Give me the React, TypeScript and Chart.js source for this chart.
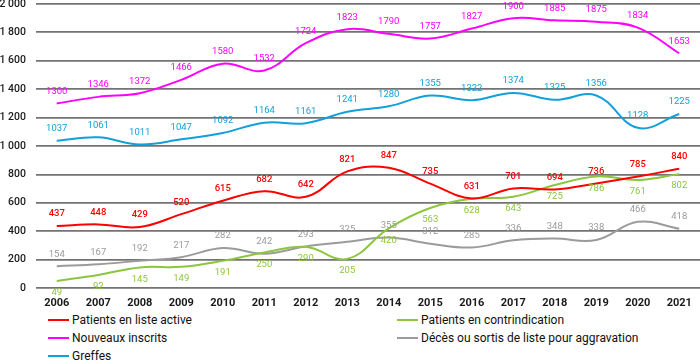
import React, { useEffect, useRef } from "react";
import { Chart, registerables } from "chart.js";

Chart.register(...registerables);

const years = ["2006", "2007", "2008", "2009", "2010", "2011", "2012", "2013", "2014", "2015", "2016", "2017", "2018", "2019", "2020", "2021"];
const activeList = [437, 448, 429, 520, 615, 682, 642, 821, 847, 735, 631, 701, 694, 736, 785, 840];
const newRegistrations = [1300, 1346, 1372, 1466, 1580, 1532, 1724, 1823, 1790, 1757, 1827, 1900, 1885, 1875, 1834, 1653];
const transplants = [1037, 1061, 1011, 1047, 1092, 1164, 1161, 1241, 1280, 1355, 1322, 1374, 1325, 1356, 1128, 1225];
const contraindication = [49, 92, 145, 149, 191, 250, 290, 205, 420, 563, 628, 643, 725, 786, 761, 802];
const deaths = [154, 167, 192, 217, 282, 242, 293, 325, 355, 312, 285, 336, 348, 338, 466, 418];

const seriesNames = [
  "Patients en liste active",
  "Nouveaux inscrits",
  "Greffes",
  "Patients en contrindication",
  "Décès ou sortis de liste pour aggravation",
];
const seriesColors = ["#ff0000", "#ff00ff", "#12a0dc", "#8cc63e", "#9b9b9b"];

const FONT = "Roboto, 'Noto Sans', sans-serif";

function formatTick(v: number): string {
  if (v >= 1000) {
    return `${Math.floor(v / 1000)} ${String(v % 1000).padStart(3, "0")}`;
  }
  return String(v);
}

const valueLabels = {
  id: "valueLabels",
  afterDatasetsDraw(chart: any) {
    const ctx = chart.ctx;
    chart.data.datasets.forEach((ds: any, i: number) => {
      const meta = chart.getDatasetMeta(i);
      ctx.save();
      ctx.font = `${ds.labelWeight || "normal"} 9.5px ${FONT}`;
      ctx.fillStyle = ds.borderColor;
      ctx.textAlign = "center";
      ctx.textBaseline = "middle";
      meta.data.forEach((pt: any, j: number) => {
        const dy = ds.labelBelow ? 12 : -12;
        ctx.fillText(String(ds.data[j]), pt.x, pt.y + dy);
      });
      ctx.restore();
    });
  },
};

export default function App() {
  const canvasRef = useRef<HTMLCanvasElement | null>(null);

  useEffect(() => {
    if (!canvasRef.current) return;
    const seriesData = [activeList, newRegistrations, transplants, contraindication, deaths];
    const chart = new Chart(canvasRef.current, {
      type: "line",
      data: {
        labels: years,
        datasets: seriesData.map((d, i) => ({
          label: seriesNames[i],
          data: d,
          borderColor: seriesColors[i],
          backgroundColor: seriesColors[i],
          borderWidth: 2,
          pointRadius: 0,
          pointHoverRadius: 0,
          tension: 0.4,
          fill: false,
          labelBelow: i === 3,
          labelWeight: i === 0 ? "500" : "normal",
        })) as any,
      },
      options: {
        animation: false,
        responsive: false,
        layout: { autoPadding: false, padding: { top: 7, right: 0, bottom: 0, left: 0 } },
        plugins: {
          legend: { display: false },
          tooltip: { enabled: false },
        },
        scales: {
          x: {
            offset: true,
            grid: { display: false, drawTicks: false },
            border: { display: false },
            afterFit: (scale: any) => {
              scale.height = 22;
              scale.paddingLeft = 0;
              scale.paddingRight = 0;
            },
            ticks: {
              padding: 9,
              color: "#1a1a1a",
              font: { family: FONT, size: 11, weight: "bold" },
              maxRotation: 0,
              autoSkip: false,
            },
          },
          y: {
            min: 0,
            max: 2000,
            afterFit: (scale: any) => {
              scale.width = 36;
              scale.paddingTop = 0;
              scale.paddingBottom = 0;
            },
            grid: { color: "#737373", lineWidth: 1.8, drawTicks: false },
            border: { display: false },
            ticks: {
              stepSize: 200,
              padding: 10,
              color: "#1a1a1a",
              font: { family: FONT, size: 10.5, weight: "500" },
              callback: (v: any) => formatTick(Number(v)),
            },
          },
        },
      },
      plugins: [valueLabels],
    });
    return () => chart.destroy();
  }, []);

  const legendItems = [
    { idx: 0, x: 48, y: 320 },
    { idx: 3, x: 397, y: 320 },
    { idx: 1, x: 48, y: 338 },
    { idx: 4, x: 397, y: 338 },
    { idx: 2, x: 48, y: 356 },
  ];

  return (
    <div style={{ position: "absolute", left: 0, top: 0, width: 700, height: 363, overflow: "hidden", background: "#fff" }}>
      <canvas ref={canvasRef} width={700} height={313} style={{ position: "absolute", left: 0, top: -3 }} />
      {legendItems.map((it) => (
        <div
          key={it.idx}
          style={{
            position: "absolute",
            left: it.x,
            top: it.y - 9,
            height: 18,
            display: "flex",
            alignItems: "center",
            fontFamily: FONT,
            fontSize: 12,
            color: "#111",
            whiteSpace: "nowrap",
          }}
        >
          <span style={{ display: "inline-block", width: 21, height: 2.5, background: seriesColors[it.idx], marginRight: 3 }} />
          <span>{seriesNames[it.idx]}</span>
        </div>
      ))}
    </div>
  );
}
